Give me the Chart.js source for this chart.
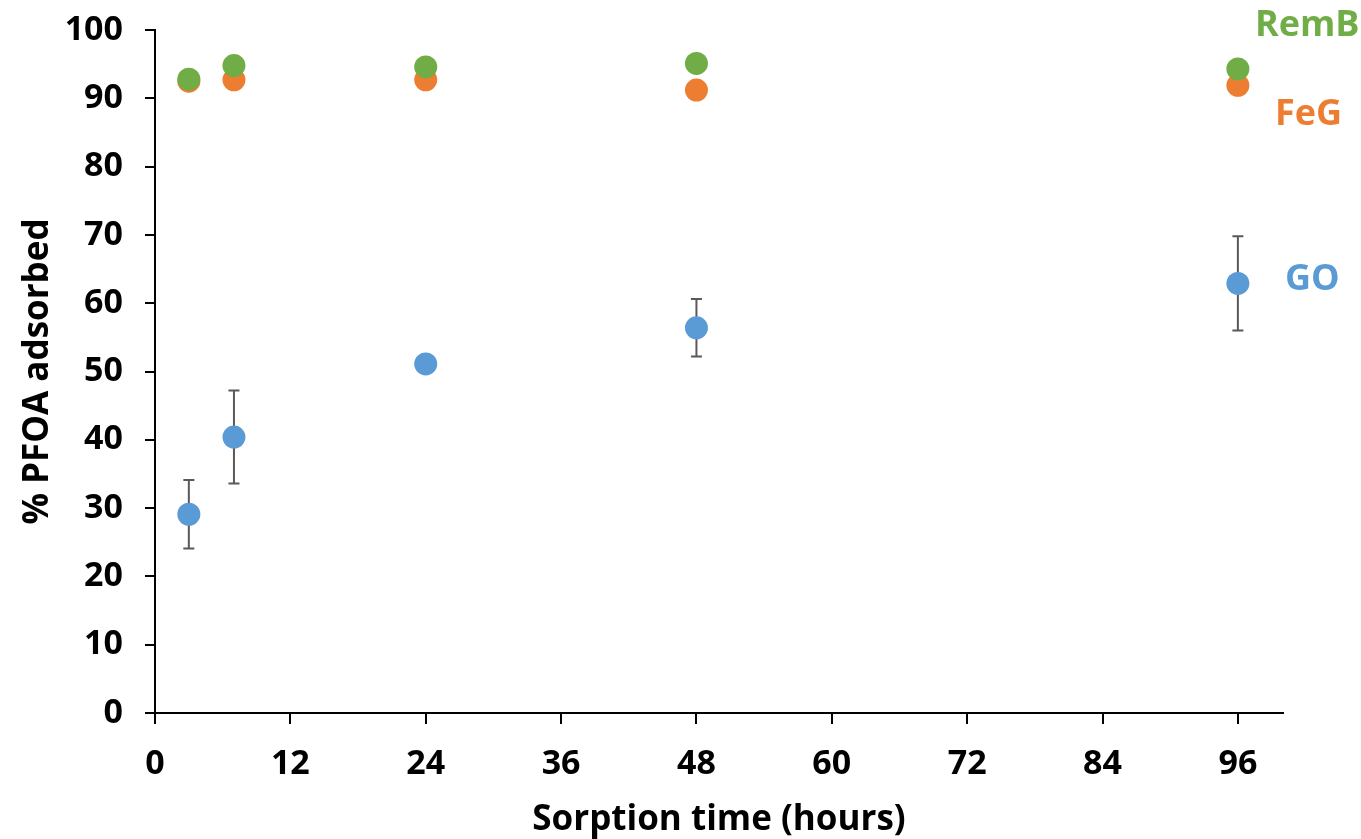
<!DOCTYPE html>
<html>
<head>
<meta charset="utf-8">
<script src="https://cdn.jsdelivr.net/npm/chart.js@4"></script>
<style>
  html, body { margin: 0; padding: 0; background: #fff; }
  #wrap { width: 1361px; height: 839px; position: relative; }
</style>
</head>
<body>
<div id="wrap"><canvas id="chart"></canvas></div>
<script>
// sorption times (hours)
const hours = [3, 7, 24, 48, 96];

// % PFOA adsorbed
const goValues = [29.1, 40.4, 51.1, 56.4, 62.9];
const goErrors = [5.0, 6.8, 0.5, 4.2, 6.9];
const fegValues = [92.5, 92.7, 92.7, 91.2, 91.9];
const rembValues = [92.8, 94.8, 94.6, 95.1, 94.3];

const seriesNames = ['GO', 'FeG', 'RemB'];
const seriesColors = ['#5B9BD5', '#ED7D31', '#70AD47'];
// where each series name sits (axis values next to the last point)
const labelYValues = [63.5, 87.6, 100.6];
const labelXOffsets = [47, 37, 17];

const FONT = "'Open Sans', 'DejaVu Sans', sans-serif";

const toPoints = vals => hours.map((h, i) => ({ x: h, y: vals[i] }));

// error bars + series names drawn through the scales
const errorBarPlugin = {
  id: 'errorBars',
  beforeDatasetsDraw(chart) {
    const { ctx, scales: { x, y } } = chart;
    ctx.save();
    ctx.strokeStyle = '#595959';
    ctx.lineWidth = 2;
    hours.forEach((h, i) => {
      const px = x.getPixelForValue(h);
      const top = y.getPixelForValue(goValues[i] + goErrors[i]);
      const bot = y.getPixelForValue(goValues[i] - goErrors[i]);
      ctx.beginPath();
      ctx.moveTo(px, top); ctx.lineTo(px, bot);
      ctx.moveTo(px - 5.5, top); ctx.lineTo(px + 5.5, top);
      ctx.moveTo(px - 5.5, bot); ctx.lineTo(px + 5.5, bot);
      ctx.stroke();
    });
    ctx.restore();
  },
  afterDatasetsDraw(chart) {
    const { ctx, scales: { x, y } } = chart;
    const lastX = x.getPixelForValue(hours[hours.length - 1]);
    ctx.save();
    ctx.font = `bold 36px ${FONT}`;
    ctx.textAlign = 'left';
    ctx.textBaseline = 'middle';
    seriesNames.forEach((name, i) => {
      ctx.fillStyle = seriesColors[i];
      ctx.fillText(name, lastX + labelXOffsets[i], y.getPixelForValue(labelYValues[i]));
    });
    ctx.restore();
  }
};

const makeSet = (name, vals, color, order) => ({
  label: name,
  data: toPoints(vals),
  backgroundColor: color,
  borderColor: color,
  pointRadius: 11.5,
  pointHoverRadius: 11.5,
  borderWidth: 0,
  showLine: false,
  order: order
});

new Chart(document.getElementById('chart'), {
  type: 'scatter',
  data: {
    datasets: [
      makeSet('GO', goValues, seriesColors[0], 3),
      makeSet('FeG', fegValues, seriesColors[1], 2),
      makeSet('RemB', rembValues, seriesColors[2], 1)
    ]
  },
  options: {
    responsive: true,
    maintainAspectRatio: false,
    animation: false,
    layout: { padding: { top: 30, right: 78, left: 0, bottom: 0 } },
    plugins: {
      legend: { display: false },
      tooltip: { enabled: false }
    },
    scales: {
      x: {
        type: 'linear',
        min: 0,
        max: 100,
        afterFit: s => { s.height = 126; s.paddingLeft = 0; s.paddingRight = 0; },
        ticks: {
          stepSize: 12,
          includeBounds: false,
          color: '#000',
          padding: 20,
          font: { family: FONT, size: 34, weight: 'bold' }
        },
        grid: { drawOnChartArea: false, drawTicks: true, tickLength: 11, color: '#000', lineWidth: 2 },
        border: { color: '#000', width: 2 },
        title: {
          display: true,
          text: 'Sorption time (hours)',
          color: '#000',
          padding: { top: 0, bottom: -2 },
          font: { family: FONT, size: 35, weight: 'bold' }
        }
      },
      y: {
        type: 'linear',
        min: 0,
        max: 100,
        afterFit: s => { s.width = 155; s.paddingTop = 0; s.paddingBottom = 0; },
        ticks: {
          stepSize: 10,
          color: '#000',
          padding: 22,
          font: { family: FONT, size: 34, weight: 'bold' }
        },
        grid: { drawOnChartArea: false, drawTicks: true, tickLength: 10, color: '#000', lineWidth: 2 },
        border: { color: '#000', width: 2 },
        title: {
          display: true,
          text: '% PFOA adsorbed',
          color: '#000',
          padding: { top: 17, bottom: 0 },
          font: { family: FONT, size: 35, weight: 'bold' }
        }
      }
    }
  },
  plugins: [errorBarPlugin]
});
</script>
</body>
</html>
